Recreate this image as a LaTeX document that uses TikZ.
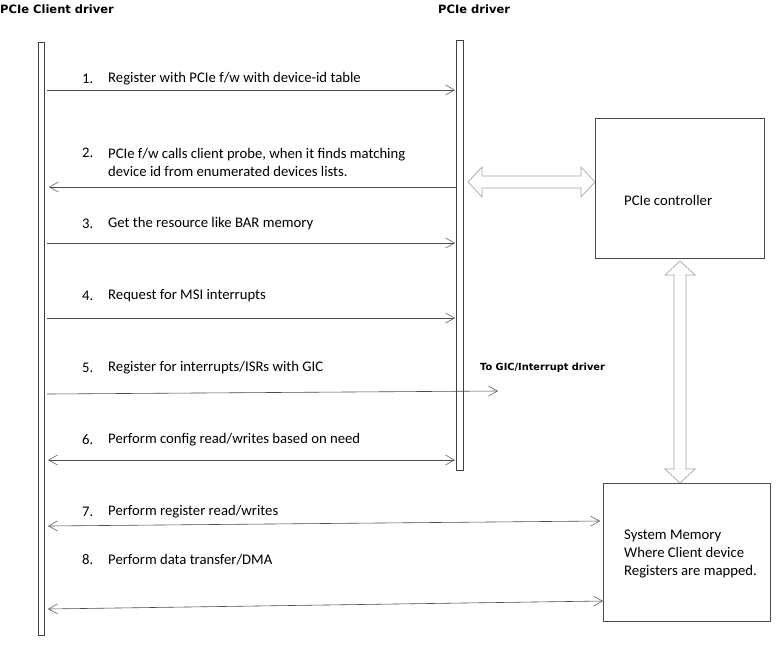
\documentclass[tikz,border=0pt]{standalone}
\usepackage{fontspec}
\setmainfont{Carlito}
\newfontfamily\ttlfont{DejaVu Sans}
\usetikzlibrary{arrows.meta}
\begin{document}
\begin{tikzpicture}[x=1pt,y=-1pt,
  life/.style={draw=black!75,fill=white,line width=0.6pt},
  msg/.style={draw=black!70,line width=0.6pt},
  ra/.style={msg,-{Straight Barb[length=9pt,width=10pt,line width=0.5pt]}},
  la/.style={msg,{Straight Barb[length=9pt,width=10pt,line width=0.5pt]}-},
  ba/.style={msg,{Straight Barb[length=9pt,width=10pt,line width=0.5pt]}-{Straight Barb[length=9pt,width=10pt,line width=0.5pt]}},
  lbl/.style={anchor=west,font=\fontsize{14.7}{18}\selectfont,inner sep=0pt,align=left},
  ttl/.style={anchor=west,font=\ttlfont\fontsize{11.5}{13}\selectfont\bfseries,inner sep=0pt},
  box/.style={draw=black!70,line width=0.7pt},
  hol/.style={draw=black!35,fill=white,line width=0.7pt,line join=miter}]
\useasboundingbox (0,0) rectangle (776,665);
\fill[white] (0,0) rectangle (776,665);
\node[ttl] (t1) at (0,9) {PCIe Client driver};
\node[ttl] (t2) at (438,9) {PCIe driver};
\draw[life] (38,42) rectangle (44,635);
\draw[life] (456,40) rectangle (463,470);
\node[box,minimum width=169pt,minimum height=140pt,inner sep=0pt] (pc) at (679.5,188) {};
\node[lbl] at (624,200) {PCIe controller};
\node[box,minimum width=167pt,minimum height=138pt,inner sep=0pt] (sm) at (686.5,552) {};
\node[lbl] at (624,554) {System Memory\\Where Client device\\Registers are mapped.};
% hollow double arrows
\draw[hol] (468,182) -- (482,167) -- (482,176) -- (581,176) -- (581,167) -- (595,182)
  -- (581,197) -- (581,188) -- (482,188) -- (482,197) -- cycle;
\draw[hol] (680,261) -- (695,275) -- (686,275) -- (686,469) -- (695,469) -- (680,483)
  -- (665,469) -- (674,469) -- (674,275) -- (665,275) -- cycle;
\coordinate (a1l) at (47,90); \coordinate (a1r) at (455,90);
\coordinate (a2l) at (49,187); \coordinate (a2r) at (457,187);
\coordinate (a3l) at (47,243); \coordinate (a3r) at (455,243);
\coordinate (a4l) at (47,318); \coordinate (a4r) at (455,318);
\coordinate (a5l) at (47,394); \coordinate (a5r) at (498,391);
\coordinate (a6l) at (48,460); \coordinate (a6r) at (455,460);
\coordinate (a7l) at (48,526); \coordinate (a7r) at (600,521);
\coordinate (a8l) at (48,609); \coordinate (a8r) at (603,601);
\draw[ra] (a1l) -- (a1r);
\draw[la] (a2l) -- (a2r);
\draw[ra] (a3l) -- (a3r);
\draw[ra] (a4l) -- (a4r);
\draw[ra] (a5l) -- (a5r);
\draw[ba] (a6l) -- (a6r);
\draw[ba] (a7l) -- (a7r);
\draw[ba] (a8l) -- (a8r);
\foreach \n/\y in {1/79,3/224,4/296,5/368,6/440,7/512,8/560} \node[lbl] at (82,\y) {\n.};
\node[lbl] at (82,153) {2.};
\node[lbl] at (108,162) {PCIe f/w calls client probe, when it finds matching\\device id from enumerated devices lists.};
\node[lbl] at (108,79) {Register with PCIe f/w with device-id table};
\node[lbl] at (108,224) {Get the resource like BAR memory};
\node[lbl] at (108,296) {Request for MSI interrupts};
\node[lbl] at (108,368) {Register for interrupts/ISRs with GIC};
\node[lbl] at (108,440) {Perform config read/writes based on need};
\node[lbl] at (108,512) {Perform register read/writes};
\node[lbl] at (108,560) {Perform data transfer/DMA};
\node[ttl,font=\ttlfont\fontsize{9.8}{11}\selectfont\bfseries] at (480,368) {To GIC/Interrupt driver};
\end{tikzpicture}
\end{document}
